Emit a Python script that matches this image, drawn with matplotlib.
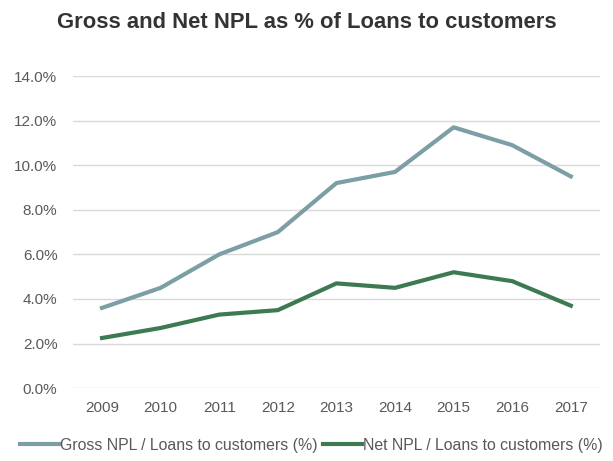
import matplotlib
matplotlib.use("Agg")
import matplotlib.pyplot as plt
from matplotlib.ticker import PercentFormatter

years = ["2009", "2010", "2011", "2012", "2013", "2014", "2015", "2016", "2017"]
gross_npl = [3.6, 4.5, 6.0, 7.0, 9.2, 9.7, 11.7, 10.9, 9.5]
net_npl = [2.25, 2.7, 3.3, 3.5, 4.7, 4.5, 5.2, 4.8, 3.7]

plt.rcParams["font.family"] = ["Liberation Sans", "DejaVu Sans"]

fig = plt.figure(figsize=(6.13, 4.61), dpi=100)
ax = fig.add_axes([0.1186, 0.158, 0.8604, 0.677])

x = range(len(years))
ax.plot(x, gross_npl, color="#7c9ea5", lw=3, label="Gross NPL / Loans to customers (%)")
ax.plot(x, net_npl, color="#3d7a52", lw=3, label="Net NPL / Loans to customers (%)")

ax.set_xlim(-0.5, len(years) - 0.5)
ax.set_ylim(0, 14)
ax.set_yticks(range(0, 15, 2))
ax.yaxis.set_major_formatter(PercentFormatter(decimals=1))
ax.set_xticks(list(x))
ax.set_xticklabels(years)
ax.tick_params(length=0, labelsize=11, colors="#595959")
ax.tick_params(axis="y", pad=11)
ax.tick_params(axis="x", pad=9)
ax.grid(axis="y", color="#d9d9d9", lw=1)
ax.set_axisbelow(True)
for s in ax.spines.values():
    s.set_visible(False)

fig.suptitle("Gross and Net NPL as % of Loans to customers", x=0.5, y=0.975,
             fontsize=15.8, fontweight="bold", color="#333333")
fig.legend(loc="lower center", bbox_to_anchor=(0.508, -0.013), ncol=2, frameon=False,
           fontsize=11.4, handlelength=2.5, handletextpad=0.05, columnspacing=0.3,
           labelcolor="#595959")

fig.savefig("out.png", dpi=100)
